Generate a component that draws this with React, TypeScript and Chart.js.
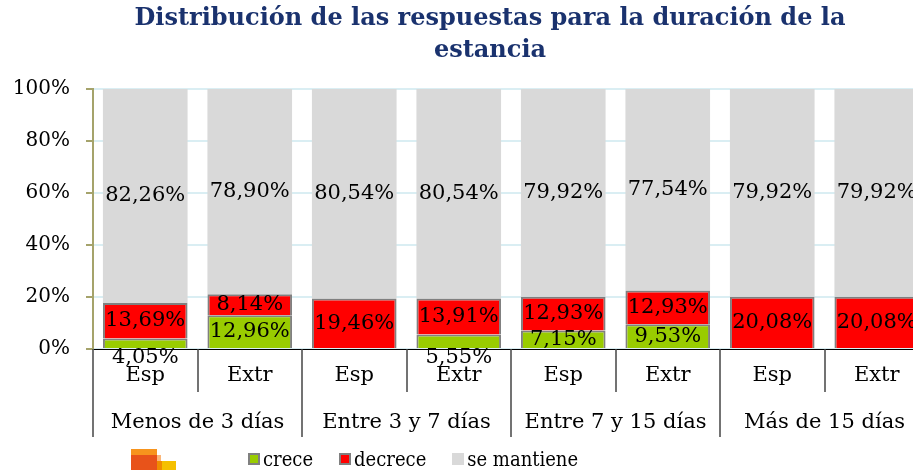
import React, { useEffect, useRef } from "react";
import { Chart, registerables } from "chart.js";

Chart.register(...registerables);

const TITLE_LINES = ["Distribución de las respuestas para la duración de la", "estancia"];
const CATEGORIES = ["Esp", "Extr", "Esp", "Extr", "Esp", "Extr", "Esp", "Extr"];
const GROUPS = ["Menos de 3 días", "Entre 3 y 7 días", "Entre 7 y 15 días", "Más de 15 días"];
const CRECE = [4.05, 12.96, 0, 5.55, 7.15, 9.53, 0, 0];
const DECRECE = [13.69, 8.14, 19.46, 13.91, 12.93, 12.93, 20.08, 20.08];
const MANTIENE = [82.26, 78.9, 80.54, 80.54, 79.92, 77.54, 79.92, 79.92];
const SERIES_NAMES = ["crece", "decrece", "se mantiene"];
const SERIES_COLORS = ["#99cc00", "#ff0000", "#d9d9d9"];

const SERIF = "'DejaVu Serif', 'Liberation Serif', serif";
const SERIF_COND = "'DejaVu Serif Condensed', 'DejaVu Serif', serif";

const labelPlugin = {
  id: "barLabels",
  afterDatasetsDraw(chart: any) {
    const ctx = chart.ctx;
    ctx.save();
    ctx.font = "21px " + SERIF;
    ctx.fillStyle = "#000";
    ctx.textAlign = "center";
    ctx.textBaseline = "middle";
    chart.data.datasets.forEach((ds: any, di: number) => {
      const meta = chart.getDatasetMeta(di);
      meta.data.forEach((el: any, i: number) => {
        const v = ds.data[i];
        if (!v) return;
        const h = Math.abs(el.base - el.y);
        let y = (el.y + el.base) / 2;
        if (h < 17) y = el.base + 10;
        ctx.fillText(v.toFixed(2).replace(".", ",") + "%", el.x, y);
      });
    });
    ctx.restore();
  },
};

const separatorPlugin = {
  id: "separators",
  afterDraw(chart: any) {
    const ctx = chart.ctx;
    const x = chart.scales.x;
    const x2 = chart.scales.x2;
    const n = CATEGORIES.length;
    const w = (x.right - x.left) / n;
    ctx.save();
    ctx.strokeStyle = "#444";
    ctx.lineWidth = 1.5;
    for (let i = 0; i <= n; i++) {
      const px = Math.round(x.left + i * w);
      const bottom = i % 2 === 0 ? x2.bottom : x.bottom;
      ctx.beginPath();
      ctx.moveTo(px, x.top);
      ctx.lineTo(px, bottom);
      ctx.stroke();
    }
    ctx.restore();
  },
};

export default function App() {
  const ref = useRef<HTMLCanvasElement | null>(null);

  useEffect(() => {
    if (!ref.current) return;
    const chart = new Chart(ref.current, {
      type: "bar",
      data: {
        labels: CATEGORIES,
        datasets: [
          {
            label: SERIES_NAMES[0],
            data: CRECE,
            backgroundColor: SERIES_COLORS[0],
            borderColor: "#808080",
            borderWidth: 2,
          },
          {
            label: SERIES_NAMES[1],
            data: DECRECE,
            backgroundColor: SERIES_COLORS[1],
            borderColor: "#808080",
            borderWidth: 2,
          },
          {
            label: SERIES_NAMES[2],
            data: MANTIENE,
            backgroundColor: SERIES_COLORS[2],
            borderWidth: 0,
          },
        ],
      },
      options: {
        responsive: false,
        animation: false,
        devicePixelRatio: 1,
        layout: { padding: { left: 8, right: 11, top: 89, bottom: 33 } },
        datasets: { bar: { barPercentage: 0.81, categoryPercentage: 1 } },
        plugins: {
          legend: { display: false },
          title: { display: false },
          tooltip: { enabled: false },
        },
        scales: {
          x: {
            type: "category",
            position: "bottom",
            stacked: true,
            weight: 0,
            grid: { display: false, drawTicks: false },
            border: { display: true, color: "#000", width: 1 },
            ticks: { padding: 14, color: "#000", font: { family: SERIF, size: 21 }, maxRotation: 0 },
            afterFit: (s: any) => {
              s.height = 43;
            },
          },
          x2: {
            type: "category",
            position: "bottom",
            labels: GROUPS,
            offset: true,
            weight: 1,
            grid: { display: false, drawTicks: false },
            border: { display: false },
            ticks: { padding: 18, color: "#000", font: { family: SERIF, size: 21 }, maxRotation: 0 },
            afterFit: (s: any) => {
              s.height = 45;
            },
          },
          y: {
            stacked: true,
            min: 0,
            max: 100,
            ticks: {
              stepSize: 20,
              padding: 16,
              color: "#000",
              font: { family: SERIF, size: 20 },
              callback: (v: any) => v + "%",
            },
            grid: { color: "#daeef3", lineWidth: 2, tickLength: 7, tickColor: "#a5a36b" },
            border: { color: "#a5a36b", width: 2 },
            afterFit: (s: any) => {
              s.width = 85;
            },
          },
        },
      },
      plugins: [labelPlugin, separatorPlugin],
    });
    return () => chart.destroy();
  }, []);

  const legendItem = (name: string, color: string, bordered: boolean) => (
    <span key={name} style={{ display: "inline-flex", alignItems: "center", marginRight: 26 }}>
      <span
        style={{
          display: "inline-block",
          width: bordered ? 8 : 12,
          height: bordered ? 8 : 12,
          background: color,
          border: bordered ? "2px solid #808080" : "none",
          marginRight: 3,
        }}
      />
      <span>{name}</span>
    </span>
  );

  return (
    <div style={{ position: "fixed", left: 0, top: 0, width: 913, height: 470, overflow: "hidden", background: "#fff" }}>
      <canvas ref={ref} width={940} height={470} style={{ position: "absolute", left: 0, top: 0, width: 940, height: 470 }} />
      <div
        style={{
          position: "absolute",
          left: 67,
          top: 1,
          width: 846,
          textAlign: "center",
          fontFamily: SERIF,
          fontWeight: "bold",
          fontSize: 24,
          lineHeight: "32px",
          color: "#1a326e",
          whiteSpace: "nowrap",
        }}
      >
        {TITLE_LINES[0]}
        <br />
        {TITLE_LINES[1]}
      </div>
      <div style={{ position: "absolute", left: 131, top: 449, width: 40, height: 21 }}>
        <div style={{ position: "absolute", left: 0, top: 0, width: 26, height: 6, background: "#f7941d" }} />
        <div style={{ position: "absolute", left: 0, top: 6, width: 26, height: 15, background: "#e8531a" }} />
        <div style={{ position: "absolute", left: 26, top: 6, width: 4, height: 6, background: "#fbb77a" }} />
        <div style={{ position: "absolute", left: 26, top: 12, width: 5, height: 9, background: "#f08c00" }} />
        <div style={{ position: "absolute", left: 31, top: 12, width: 14, height: 9, background: "#f5c000" }} />
      </div>
      <div
        style={{
          position: "absolute",
          left: 248,
          top: 447,
          fontFamily: SERIF_COND,
          fontSize: 20,
          lineHeight: "24px",
          color: "#000",
          whiteSpace: "nowrap",
          display: "flex",
        }}
      >
        {SERIES_NAMES.map((n, i) => legendItem(n, SERIES_COLORS[i], i < 2))}
      </div>
    </div>
  );
}
